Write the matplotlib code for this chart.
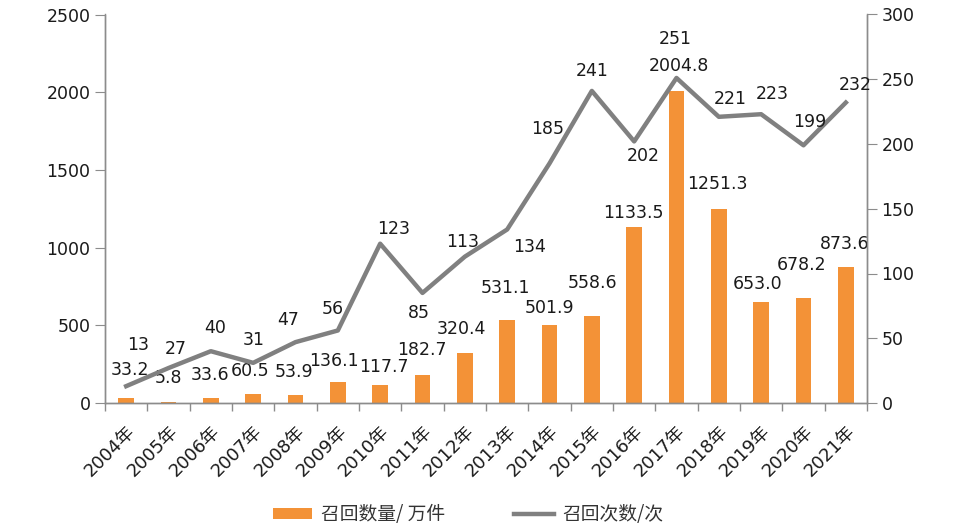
import matplotlib
matplotlib.use("Agg")
import matplotlib.pyplot as plt
import numpy as np

years = ["2004年", "2005年", "2006年", "2007年", "2008年", "2009年", "2010年", "2011年", "2012年",
         "2013年", "2014年", "2015年", "2016年", "2017年", "2018年", "2019年", "2020年", "2021年"]
recall_amount = [33.2, 5.8, 33.6, 60.5, 53.9, 136.1, 117.7, 182.7, 320.4,
                 531.1, 501.9, 558.6, 1133.5, 2004.8, 1251.3, 653.0, 678.2, 873.6]
recall_times = [13, 27, 40, 31, 47, 56, 123, 85, 113,
                134, 185, 241, 202, 251, 221, 223, 199, 232]

# label offsets in pixels (dx, dy), picked to look like the original layout
bar_label_offsets = [(4, 28), (0, 24), (-1, 23), (-3, 23), (-1, 23), (-4, 21), (4, 18), (-1, 25), (-3, 24),
                     (-2, 32), (0, 17), (1, 33), (-1, 14), (2, 25), (-1, 25), (-4, 18), (-2, 33), (-1, 23)]
line_label_offsets = [(12, 41), (7, 19), (4, 23), (1, 23), (-7, 22), (-5, 21), (13, 15), (-4, -20), (-2, 15),
                      (22, -18), (-2, 34), (0, 20), (9, -15), (-1, 39), (11, 18), (11, 20), (6, 23), (9, 18)]

mixed_fonts = ["DejaVu Sans", "Noto Sans CJK SC"]
plt.rcParams["font.family"] = mixed_fonts
bar_color = "#F39237"
line_color = "#808080"
axis_color = "#8c8c8c"
text_color = "#1a1a1a"

fig = plt.figure(figsize=(9.75, 5.27), dpi=100)
ax = fig.add_axes([105 / 975, 1 - 403 / 527, 762 / 975, 388.5 / 527])
ax2 = ax.twinx()

x = np.arange(len(years))
bars = ax.bar(x, recall_amount, width=0.37, color=bar_color, zorder=2)
line, = ax2.plot(x, recall_times, color=line_color, linewidth=3.2, zorder=3)
ax2.set_zorder(ax.get_zorder() + 1)
ax2.patch.set_visible(False)

ax.set_xlim(-0.5, len(years) - 0.5)
ax.set_ylim(0, 2500)
ax2.set_ylim(0, 300)
ax.set_yticks(np.arange(0, 2501, 500))
ax2.set_yticks(np.arange(0, 301, 50))

for i, v in enumerate(recall_amount):
    dx, dy = bar_label_offsets[i]
    ax.annotate("{:.1f}".format(v), (x[i], v), xytext=(dx, dy), textcoords="offset pixels",
                ha="center", va="center", fontsize=12.5, color=text_color, family="DejaVu Sans", zorder=4)
for i, v in enumerate(recall_times):
    dx, dy = line_label_offsets[i]
    ax2.annotate(str(v), (x[i], v), xytext=(dx, dy), textcoords="offset pixels",
                 ha="center", va="center", fontsize=12.5, color=text_color, family="DejaVu Sans", zorder=4)

ax.set_xticks(x)
ax.set_xticklabels(years, rotation=45, ha="right", rotation_mode="anchor", fontsize=13,
                   color=text_color, family=mixed_fonts)
ax.set_xticks(np.arange(-0.5, len(years)), minor=True)
ax.tick_params(axis="x", which="major", length=0, pad=14)
ax.tick_params(axis="x", which="minor", length=6, color=axis_color, width=1)
ax.tick_params(axis="y", length=7, color=axis_color, labelsize=12.5, labelcolor=text_color)
ax2.tick_params(axis="y", length=7, color=axis_color, labelsize=12.5, labelcolor=text_color)

for a in (ax, ax2):
    a.spines["top"].set_visible(False)
    for s in ("left", "right", "bottom"):
        a.spines[s].set_color(axis_color)
        a.spines[s].set_linewidth(1)

fig.legend([bars, line], ["召回数量/ 万件", "召回次数/次"], loc="center", bbox_to_anchor=(0.48, 0.023),
           ncol=2, frameon=False, handlelength=2.1, handleheight=0.55, handletextpad=0.45,
           columnspacing=3.7, labelcolor="#333333",
           prop={"family": ["Noto Sans CJK SC", "DejaVu Sans"], "size": 13.5, "weight": "light"})

fig.savefig("out.png", dpi=100)
